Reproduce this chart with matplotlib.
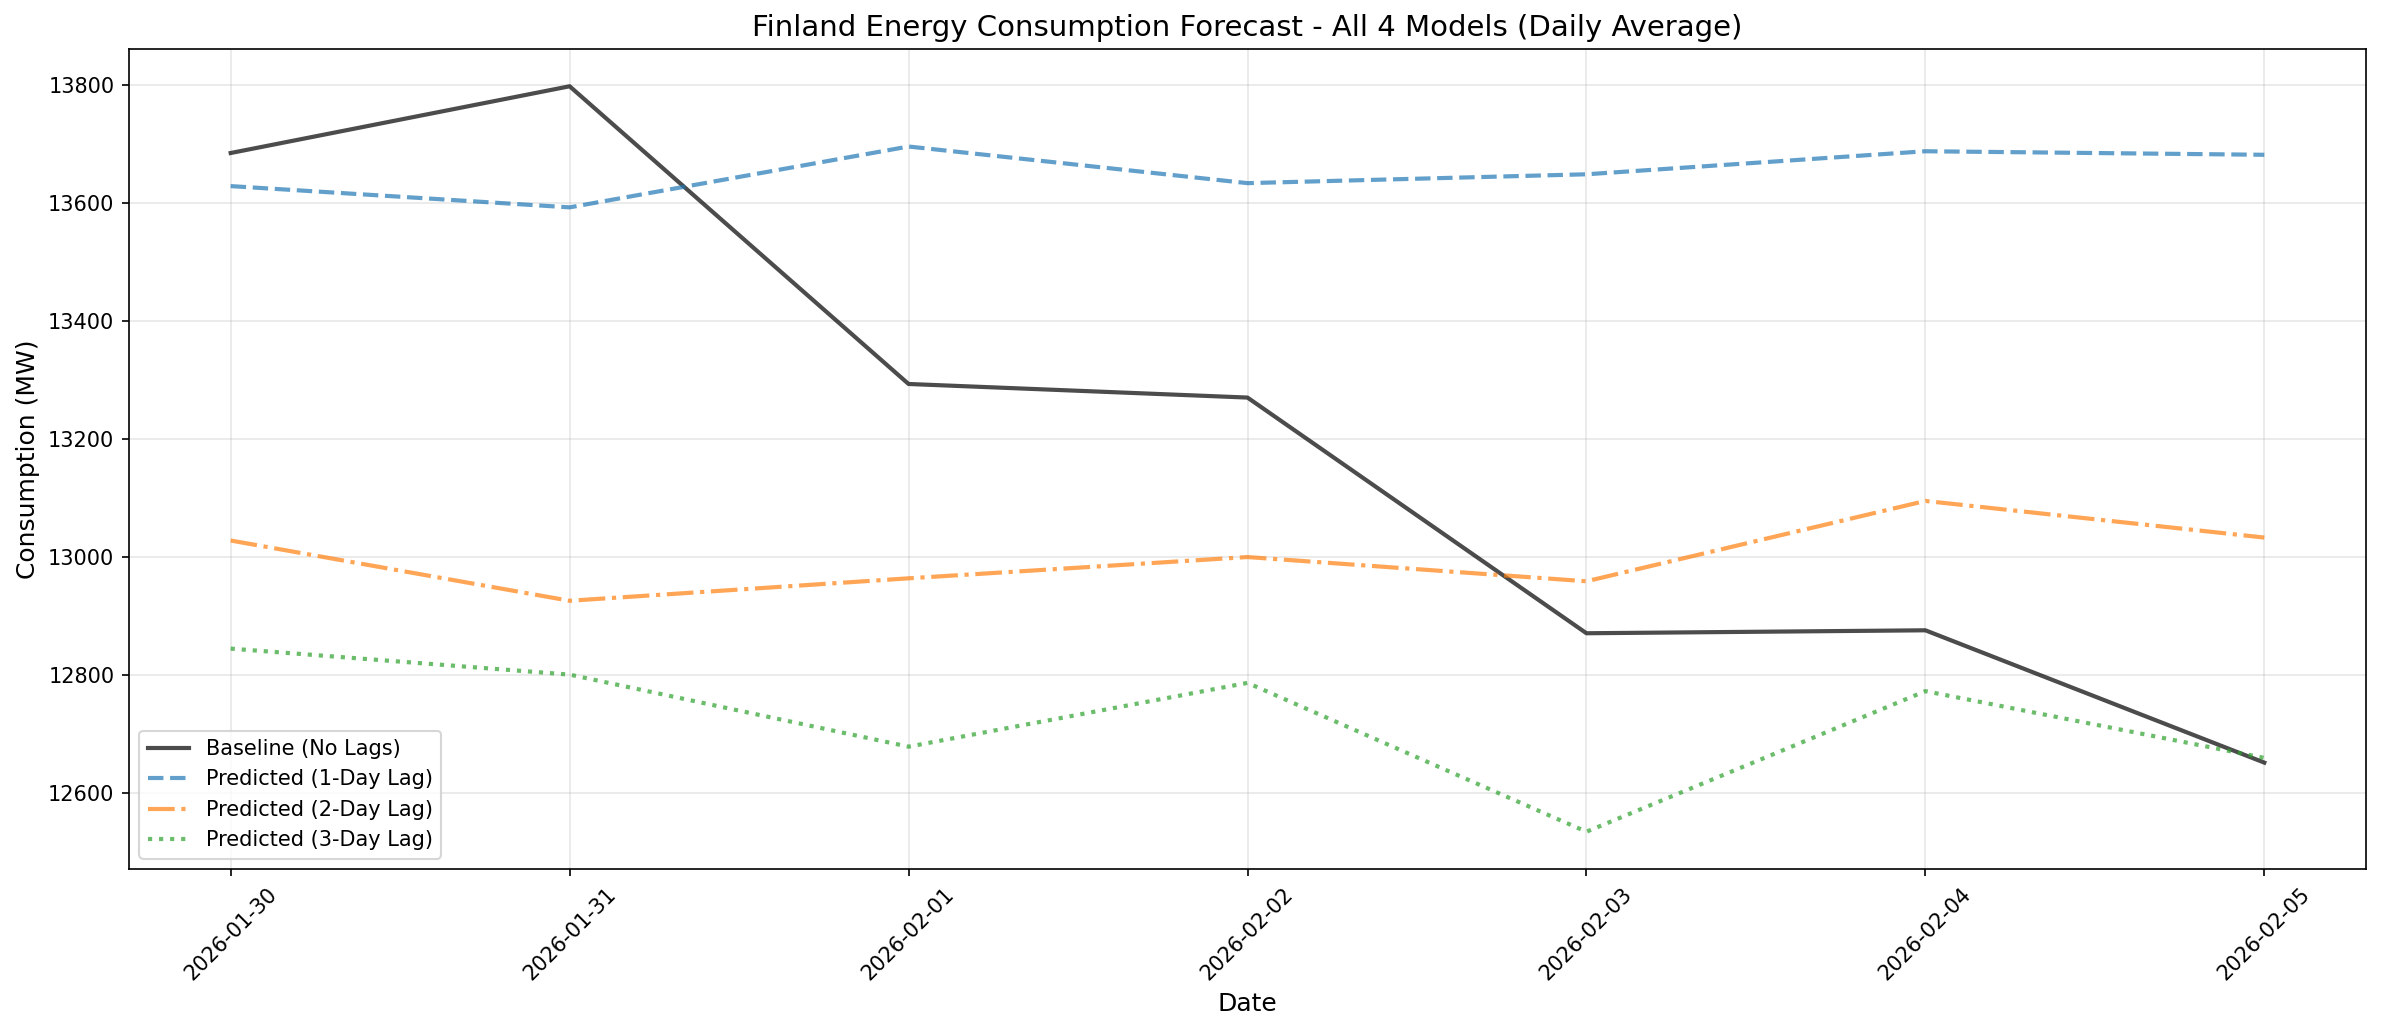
import matplotlib
matplotlib.use("Agg")
import matplotlib.pyplot as plt

DATES = ["2026-01-30", "2026-01-31", "2026-02-01", "2026-02-02",
         "2026-02-03", "2026-02-04", "2026-02-05"]
BASELINE = [13684, 13797, 13293, 13270, 12871, 12876, 12652]
LAG1 = [13628, 13592, 13695, 13633, 13648, 13687, 13681]
LAG2 = [13028, 12926, 12964, 13000, 12959, 13095, 13033]
LAG3 = [12845, 12801, 12679, 12787, 12535, 12773, 12660]


def main():
    fig = plt.figure(figsize=(2382 / 150, 1031 / 150), dpi=150)
    ax = fig.add_axes([129 / 2382, 1 - 869 / 1031, (2366 - 129) / 2382, (869 - 49) / 1031])

    ax.plot(DATES, BASELINE, color="black", alpha=0.7, linewidth=2,
            label="Baseline (No Lags)")
    ax.plot(DATES, LAG1, color="#1f77b4", alpha=0.7, linewidth=2,
            linestyle="--", label="Predicted (1-Day Lag)")
    ax.plot(DATES, LAG2, color="#ff7f0e", alpha=0.7, linewidth=2,
            linestyle="-.", label="Predicted (2-Day Lag)")
    ax.plot(DATES, LAG3, color="#2ca02c", alpha=0.7, linewidth=2,
            linestyle=":", label="Predicted (3-Day Lag)")

    ax.set_title("Finland Energy Consumption Forecast - All 4 Models (Daily Average)",
                 fontsize=14)
    ax.set_xlabel("Date", fontsize=12)
    ax.set_ylabel("Consumption (MW)", fontsize=12)
    ax.grid(True, alpha=0.3)
    ax.legend(loc="lower left", fontsize=10)
    plt.setp(ax.get_xticklabels(), rotation=45)

    fig.savefig("out.png", dpi=150)


if __name__ == "__main__":
    main()
